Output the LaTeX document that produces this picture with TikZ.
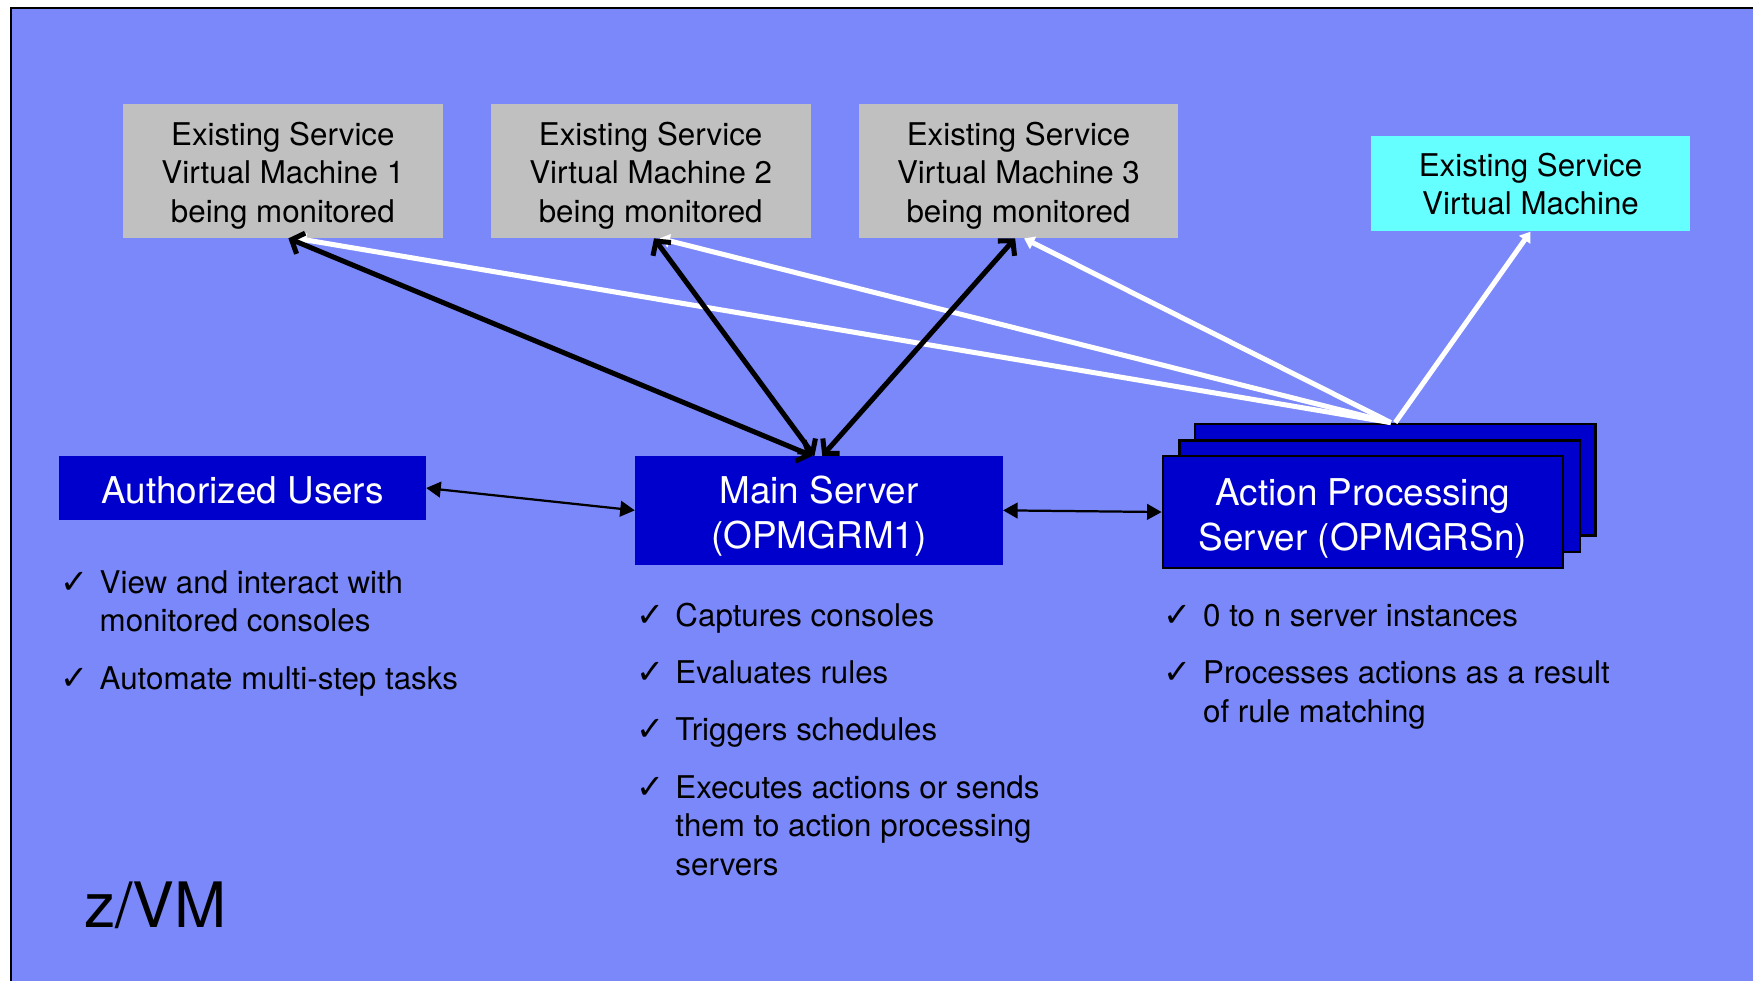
\documentclass[tikz,border=0pt]{standalone}
\usepackage{fontspec}
\setmainfont{TeX Gyre Heros}
\newfontfamily\chkfont{DejaVu Sans}
\usepackage{tikz}
\usetikzlibrary{arrows.meta}

\definecolor{zvmblue}{HTML}{7A88FA}
\definecolor{srvblue}{HTML}{0000CC}
\definecolor{vmgray}{HTML}{C0C0C0}
\definecolor{vmcyan}{HTML}{66FFFF}

\newcommand\chk{\llap{{\chkfont\fontsize{30}{30}\selectfont ✓}\hspace{10pt}}}

\tikzset{
  vmbox/.style={fill=vmgray, minimum width=286pt, minimum height=120pt, inner sep=0pt,
    align=center, font=\fontsize{28}{34.5}\selectfont},
  srvbox/.style={fill=srvblue, text=white, inner sep=0pt, align=center,
    font=\fontsize{33}{40}\selectfont},
  apsbox/.style={srvbox, draw=black, line width=2pt, minimum width=358pt, minimum height=100pt},
  note/.style={anchor=base west, inner sep=0pt, align=left, font=\fontsize{28}{34.5}\selectfont},
  bigarrow/.style={line width=4.5pt, {Straight Barb[length=9pt,width=20pt]}-{Straight Barb[length=9pt,width=20pt]}},
  thinarrow/.style={line width=2pt, {Triangle[length=13pt,width=14pt]}-{Triangle[length=13pt,width=14pt]}},
  whiteline/.style={white, line width=4.5pt, -{Triangle[length=9pt,width=12pt]}}
}

\begin{document}
\begin{tikzpicture}[x=1pt,y=-1pt]
\useasboundingbox (0,0) rectangle (1568,877);
\fill[white] (0,0) rectangle (1568,877);
\draw[line width=2pt, fill=zvmblue] (10,7) rectangle (1600,920);

% monitored machines
\node[vmbox, text height=98pt] (vm1) at (253,153) {Existing Service\\Virtual Machine 1\\being monitored};
\node[vmbox, text height=98pt] (vm2) at (582,153) {Existing Service\\Virtual Machine 2\\being monitored};
\node[vmbox, text height=98pt] (vm3) at (911,153) {Existing Service\\Virtual Machine 3\\being monitored};
\node[vmbox, fill=vmcyan, minimum height=85pt] (svm) at (1369,164.5) {Existing Service\\Virtual Machine};

% servers
\node[srvbox, text height=28pt, minimum width=328pt, minimum height=57pt] (users) at (217,436.5) {Authorized Users};
\node[srvbox, text height=75pt, minimum width=329pt, minimum height=97pt] (main) at (732.5,456.5) {Main Server\\(OPMGRM1)};
\node[apsbox] (aps3) at (1248,429) {};
\node[apsbox] (aps2) at (1234,444) {};
\node[apsbox, text height=75pt] (aps1) at (1219,458) {Action Processing\\Server (OPMGRSn)};

\coordinate (fan) at (1244,378);
\draw[whiteline] (fan) -- ([xshift=12pt]vm1.south);
\draw[whiteline] (fan) -- ([xshift=8pt]vm2.south);
\draw[whiteline] (fan) -- ([xshift=5pt]vm3.south);
\draw[whiteline] ([xshift=4pt]fan) -- (svm.south);

\draw[bigarrow] ([xshift=5pt]vm1.south) -- ([xshift=-6pt]main.north);
\draw[bigarrow] ([xshift=3pt]vm2.south) -- ([xshift=-4pt]main.north);
\draw[bigarrow] ([xshift=-3pt]vm3.south) -- ([xshift=3pt]main.north);
\draw[thinarrow] (users.east) -- (main.west);
\draw[thinarrow] (main.east) -- (aps1.west);

% bullet lists (multi-line notes sit on their last baseline)
\node[note] (u1) at (89,565) {\chk View and interact with\\monitored consoles};
\node[note] (u2) at (89,617) {\chk Automate multi-step tasks};

\node[note] (m1) at (604,560) {\chk Captures consoles};
\node[note] (m2) at (604,611) {\chk Evaluates rules};
\node[note] (m3) at (604,662) {\chk Triggers schedules};
\node[note] (m4) at (604,783) {\chk Executes actions or sends\\them to action processing\\servers};

\node[note] (a1) at (1076,560) {\chk 0 to n server instances};
\node[note] (a2) at (1076,646) {\chk Processes actions as a result\\of rule matching};

\node[anchor=base west, inner sep=0pt, font=\fontsize{56}{60}\selectfont] (zvm) at (75,830) {z/VM};
\end{tikzpicture}
\end{document}
